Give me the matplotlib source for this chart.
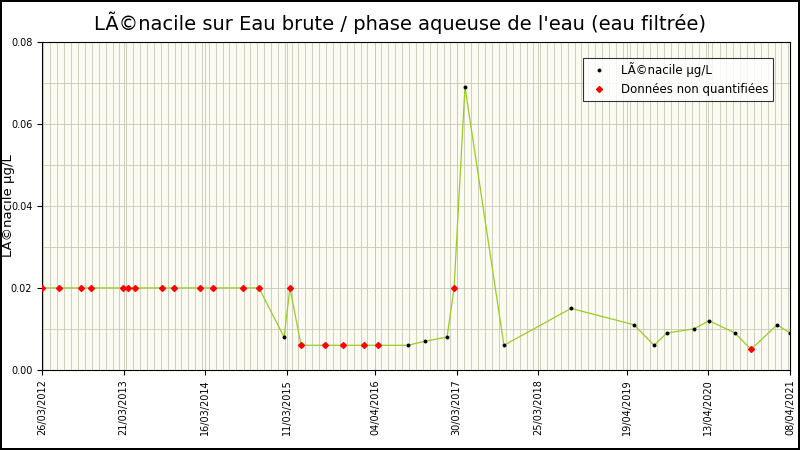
import numpy as np
import pandas as pd
import matplotlib.pyplot as plt
import matplotlib.dates as mdates

dates = ["2012-03-26", "2012-06-09", "2012-09-14", "2012-10-28", "2013-03-18", "2013-04-09",
         "2013-05-10", "2013-09-06", "2013-10-29", "2014-02-21", "2014-04-19", "2014-08-30",
         "2014-11-08", "2015-02-27", "2015-03-25", "2015-05-13", "2015-08-27", "2015-11-14",
         "2016-02-15", "2016-04-16", "2016-08-27", "2016-11-10", "2017-02-15", "2017-03-18",
         "2017-05-05", "2017-10-24", "2018-08-16", "2019-05-21", "2019-08-17", "2019-10-13",
         "2020-02-10", "2020-04-16", "2020-08-08", "2020-10-18", "2021-02-10", "2021-04-08"]
values = [0.02, 0.02, 0.02, 0.02, 0.02, 0.02, 0.02, 0.02, 0.02, 0.02, 0.02, 0.02,
          0.02, 0.008, 0.02, 0.006, 0.006, 0.006, 0.006, 0.006, 0.006, 0.007, 0.008, 0.02,
          0.069, 0.006, 0.015, 0.011, 0.006, 0.009, 0.010, 0.012, 0.009, 0.005, 0.011, 0.009]
# 1 = données non quantifiées
non_quant = [1, 1, 1, 1, 1, 1, 1, 1, 1, 1, 1, 1,
             1, 0, 1, 1, 1, 1, 1, 1, 0, 0, 0, 1,
             0, 0, 0, 0, 0, 0, 0, 0, 0, 1, 0, 0]
tick_dates = ["2012-03-26", "2013-03-21", "2014-03-16", "2015-03-11", "2016-04-04",
              "2017-03-30", "2018-03-25", "2019-04-19", "2020-04-13", "2021-04-08"]

df = pd.DataFrame({"date": pd.to_datetime(dates), "val": values, "nq": non_quant})
ticks = pd.to_datetime(tick_dates)

fig = plt.figure(figsize=(8, 4.5), dpi=100)
fig.patch.set_edgecolor("black")
fig.patch.set_linewidth(1.5)
ax = fig.add_axes([0.0525, 0.178, 0.935, 0.729])
ax.set_facecolor("#fbfbf2")

ax.plot(df["date"], df["val"], color="#99cc22", lw=0.9, zorder=2)
q = df[df["nq"] == 0]
nq = df[df["nq"] == 1]
ax.plot(q["date"], q["val"], ls="none", marker="o", ms=1.8, color="black", zorder=3,
        label="LÃ©nacile µg/L")
ax.plot(nq["date"], nq["val"], ls="none", marker="D", ms=3, color="red", zorder=3,
        label="Données non quantifiées")

ax.set_xlim(ticks[0], ticks[-1])
ax.set_ylim(0, 0.08)
ax.set_xticks(ticks)
ax.set_xticklabels([t.strftime("%d/%m/%Y") for t in ticks], rotation=90, fontsize=7)
ax.xaxis.set_minor_locator(mdates.MonthLocator())
ax.set_yticks(np.arange(0, 0.081, 0.02))
ax.set_yticklabels(["0.00", "0.02", "0.04", "0.06", "0.08"], fontsize=7)
ax.set_yticks(np.arange(0, 0.081, 0.01), minor=True)
ax.grid(True, which="both", color="#c8c8b8", lw=0.6)
ax.tick_params(which="minor", length=0)
ax.set_axisbelow(True)

ax.set_ylabel("LÃ©nacile µg/L", fontsize=9.5)
ax.yaxis.set_label_coords(-0.036, 0.5)
fig.suptitle("LÃ©nacile sur Eau brute / phase aqueuse de l'eau (eau filtrée)", fontsize=14, y=0.975)
leg = ax.legend(loc="upper right", fontsize=8.5, fancybox=False, edgecolor="black",
                bbox_to_anchor=(0.985, 0.97))
leg.get_frame().set_linewidth(0.8)

fig.savefig("out.png", dpi=100, edgecolor=fig.get_edgecolor())
